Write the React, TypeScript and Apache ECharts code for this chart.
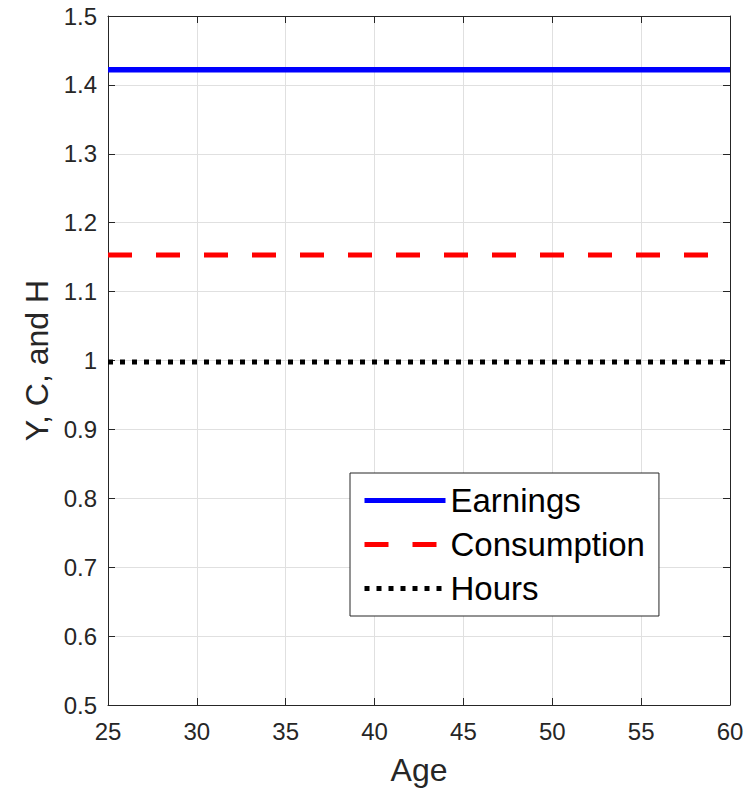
import React, { useEffect, useRef } from "react";
import * as echarts from "echarts";

// Age grid (years) and the life-cycle profiles at each age
const ages = [
  25, 26, 27, 28, 29, 30, 31, 32, 33, 34, 35, 36, 37, 38, 39, 40, 41, 42,
  43, 44, 45, 46, 47, 48, 49, 50, 51, 52, 53, 54, 55, 56, 57, 58, 59, 60,
];
const earnings = [
  1.422, 1.422, 1.422, 1.422, 1.422, 1.422, 1.422, 1.422, 1.422, 1.422, 1.422, 1.422,
  1.422, 1.422, 1.422, 1.422, 1.422, 1.422, 1.422, 1.422, 1.422, 1.422, 1.422, 1.422,
  1.422, 1.422, 1.422, 1.422, 1.422, 1.422, 1.422, 1.422, 1.422, 1.422, 1.422, 1.422,
];
const consumption = [
  1.153, 1.153, 1.153, 1.153, 1.153, 1.153, 1.153, 1.153, 1.153, 1.153, 1.153, 1.153,
  1.153, 1.153, 1.153, 1.153, 1.153, 1.153, 1.153, 1.153, 1.153, 1.153, 1.153, 1.153,
  1.153, 1.153, 1.153, 1.153, 1.153, 1.153, 1.153, 1.153, 1.153, 1.153, 1.153, 1.153,
];
const hours = [
  0.998, 0.998, 0.998, 0.998, 0.998, 0.998, 0.998, 0.998, 0.998, 0.998, 0.998, 0.998,
  0.998, 0.998, 0.998, 0.998, 0.998, 0.998, 0.998, 0.998, 0.998, 0.998, 0.998, 0.998,
  0.998, 0.998, 0.998, 0.998, 0.998, 0.998, 0.998, 0.998, 0.998, 0.998, 0.998, 0.998,
];
const seriesNames = ["Earnings", "Consumption", "Hours"];

const FONT = "'Liberation Sans', Arial, Helvetica, sans-serif";
const AXIS_COLOR = "#262626";
const GRID_COLOR = "#e0e0e0";

function pairs(ys: number[]) {
  return ages.map((a, i) => [a, ys[i]]);
}

export default function App() {
  const ref = useRef<HTMLDivElement>(null);

  useEffect(() => {
    if (!ref.current) return;
    const chart = echarts.init(ref.current, null, { renderer: "svg" });

    const tickLabel = { color: AXIS_COLOR, fontSize: 24, fontFamily: FONT };
    const axisLine = { show: true, onZero: false, lineStyle: { color: AXIS_COLOR, width: 1 } };
    const axisTick = { show: true, inside: true, length: 7, lineStyle: { color: AXIS_COLOR, width: 1 } };

    chart.setOption({
      animation: false,
      backgroundColor: "#ffffff",
      grid: { left: 108, top: 16, width: 622, height: 690 },
      xAxis: [
        {
          type: "value",
          min: 25,
          max: 60,
          interval: 5,
          position: "bottom",
          name: "Age",
          nameLocation: "middle",
          nameGap: 49,
          nameTextStyle: { color: AXIS_COLOR, fontSize: 32, fontFamily: FONT },
          axisLine,
          axisTick,
          axisLabel: { ...tickLabel, margin: 14 },
          splitLine: { show: true, lineStyle: { color: GRID_COLOR, width: 1 } },
        },
        {
          type: "value",
          min: 25,
          max: 60,
          interval: 5,
          position: "top",
          axisLine,
          axisTick,
          axisLabel: { show: false },
          splitLine: { show: false },
        },
      ],
      yAxis: [
        {
          type: "value",
          min: 0.5,
          max: 1.5,
          interval: 0.1,
          position: "left",
          name: "Y, C, and H",
          nameLocation: "middle",
          nameGap: 52,
          nameTextStyle: { color: AXIS_COLOR, fontSize: 32, fontFamily: FONT },
          axisLine,
          axisTick,
          axisLabel: { ...tickLabel, margin: 11 },
          splitLine: { show: true, lineStyle: { color: GRID_COLOR, width: 1 } },
        },
        {
          type: "value",
          min: 0.5,
          max: 1.5,
          interval: 0.1,
          position: "right",
          axisLine,
          axisTick,
          axisLabel: { show: false },
          splitLine: { show: false },
        },
      ],
      legend: {
        data: seriesNames,
        orient: "vertical",
        left: 350,
        top: 473,
        padding: [11, 14, 11, 12],
        itemGap: 11,
        itemWidth: 81,
        itemHeight: 14,
        backgroundColor: "#ffffff",
        borderColor: AXIS_COLOR,
        borderWidth: 1,
        textStyle: { color: "#000000", fontSize: 33, fontFamily: FONT },
        // line sample only, no marker dot in the key
        itemStyle: { color: "rgba(0,0,0,0)", borderWidth: 0 },
        lineStyle: { width: 5 },
      },
      series: [
        {
          name: "Earnings",
          type: "line",
          data: pairs(earnings),
          symbol: "none",
          lineStyle: { color: "#0000ff", width: 5.5, type: "solid" },
          itemStyle: { color: "#0000ff" },
        },
        {
          name: "Consumption",
          type: "line",
          data: pairs(consumption),
          symbol: "none",
          lineStyle: { color: "#ff0000", width: 5, type: [24, 24], cap: "butt" },
          itemStyle: { color: "#ff0000" },
        },
        {
          name: "Hours",
          type: "line",
          data: pairs(hours),
          symbol: "none",
          lineStyle: { color: "#000000", width: 5, type: [5, 7], cap: "butt" },
          itemStyle: { color: "#000000" },
        },
      ],
    });

    return () => chart.dispose();
  }, []);

  return (
    <div
      ref={ref}
      style={{ position: "fixed", left: 0, top: 0, width: 749, height: 791 }}
    />
  );
}
